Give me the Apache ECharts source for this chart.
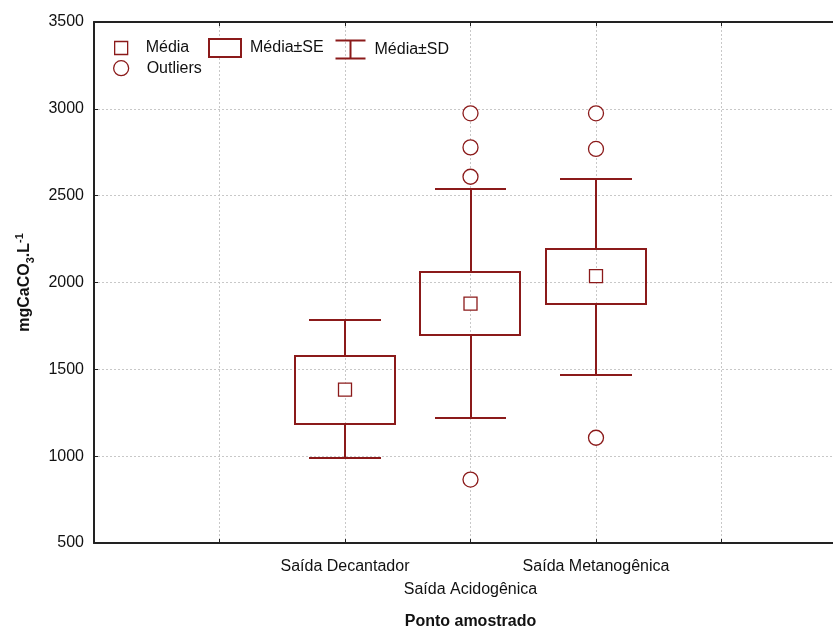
<!DOCTYPE html>
<html>
<head>
<meta charset="utf-8">
<script src="https://cdn.jsdelivr.net/npm/echarts@6/dist/echarts.min.js"></script>
<style>
  html, body { margin: 0; padding: 0; background: #fff; }
  #chart { width: 833px; height: 628px; }
</style>
</head>
<body>
<div id="chart"></div>
<script>
// Sampling points along the x axis (positions 2, 3, 4) and their names
const positions = [2, 3, 4];
const categories = ['Saída Decantador', 'Saída Acidogênica', 'Saída Metanogênica'];

// Mean, mean ± SE and mean ± SD (mgCaCO3/L)
const means  = [1383, 1878, 2037];
const seLow  = [1187, 1700, 1878];
const seHigh = [1577, 2062, 2193];
const sdLow  = [990, 1222, 1466];
const sdHigh = [1784, 2538, 2596];

// Outliers per sampling point
const outliersAcid = [2974, 2778, 2609, 865];
const outliersMeta = [2974, 2769, 1106];

// Y axis range and ticks
const yMin = 500, yMax = 3500, yStep = 500;

const RED = '#8b1a1a';
const TEXT = '#111';
const FONT = 'Liberation Sans, Arial, sans-serif';

const boxHalf = 0.4;   // half box width in axis units
const capHalf = 0.285; // half whisker-cap width

const meanData = positions.map((p, i) => [p, means[i]]);
const seData = positions.map((p, i) => [p, seLow[i], seHigh[i]]);
const sdData = positions.map((p, i) => [p, sdLow[i], sdHigh[i], seLow[i], seHigh[i]]);
const outlierData = []
  .concat(outliersAcid.map(v => [positions[1], v]))
  .concat(outliersMeta.map(v => [positions[2], v]));

const lineStyle = { stroke: RED, lineWidth: 2, fill: null };

function renderSE(params, api) {
  const x = api.value(0);
  const lo = api.coord([x - boxHalf, api.value(1)]);
  const hi = api.coord([x + boxHalf, api.value(2)]);
  return {
    type: 'rect',
    shape: { x: Math.round(lo[0]), y: Math.round(hi[1]), width: Math.round(hi[0] - lo[0]), height: Math.round(lo[1] - hi[1]) },
    style: { stroke: RED, lineWidth: 2, fill: 'rgba(0,0,0,0)' }
  };
}

function renderSD(params, api) {
  const x = api.value(0);
  const c = api.coord([x, api.value(1)]);
  const cx = Math.round(c[0]);
  const yLow = Math.round(c[1]);
  const yHigh = Math.round(api.coord([x, api.value(2)])[1]);
  const yBoxLow = Math.round(api.coord([x, api.value(3)])[1]);
  const yBoxHigh = Math.round(api.coord([x, api.value(4)])[1]);
  const xl = Math.round(api.coord([x - capHalf, 0])[0]);
  const xr = Math.round(api.coord([x + capHalf, 0])[0]);
  const seg = (x1, y1, x2, y2) => ({ type: 'line', shape: { x1, y1, x2, y2 }, style: lineStyle });
  return {
    type: 'group',
    children: [
      seg(cx, yLow, cx, yBoxLow),
      seg(cx, yBoxHigh, cx, yHigh),
      seg(xl, yLow, xr, yLow),
      seg(xl, yHigh, xr, yHigh)
    ]
  };
}

const legendText = { fontSize: 16, color: TEXT, fontFamily: FONT };

const chart = echarts.init(document.getElementById('chart'), null, { renderer: 'canvas' });
chart.setOption({
  animation: false,
  backgroundColor: '#fff',
  // the plot frame runs past the right edge of the canvas
  grid: { left: 94, top: 22, width: 753, height: 521, outerBoundsMode: 'none', containLabel: false },
  legend: [
    {
      left: 114, top: 40, padding: 0, itemWidth: 13, itemHeight: 13, selectedMode: false,
      icon: 'rect',
      data: [{ name: 'Média', itemStyle: { color: '#fff', borderColor: RED, borderWidth: 1.3 } }],
      textStyle: Object.assign({ padding: [0, 0, 0, 13] }, legendText)
    },
    {
      left: 113, top: 60, padding: 0, itemWidth: 15, itemHeight: 15, selectedMode: false,
      icon: 'circle',
      data: [{ name: 'Outliers', itemStyle: { color: '#fff', borderColor: RED, borderWidth: 1.3 } }],
      textStyle: Object.assign({ padding: [0, 0, 0, 13] }, legendText)
    },
    {
      left: 208, top: 38, padding: 0, itemWidth: 32, itemHeight: 18, selectedMode: false,
      icon: 'rect',
      data: [{ name: 'Média±SE', itemStyle: { color: '#fff', borderColor: RED, borderWidth: 2 } }],
      textStyle: Object.assign({ padding: [0, 0, 0, 4] }, legendText)
    },
    {
      left: 333, top: 38, padding: 0, itemWidth: 30, itemHeight: 18, selectedMode: false,
      icon: 'path://M0,0H30M15,0V18M0,18H30',
      data: [{ name: 'Média±SD', itemStyle: { color: 'none', borderColor: RED, borderWidth: 2 } }],
      textStyle: Object.assign({ padding: [0, 0, 0, 4] }, legendText)
    }
  ],
  xAxis: [
    {
      type: 'value', min: 0, max: 6, interval: 1,
      name: 'Ponto amostrado', nameLocation: 'middle', nameGap: 71,
      nameTextStyle: { fontSize: 16, fontWeight: 'bold', color: TEXT, fontFamily: FONT },
      axisLine: { show: true, onZero: false, lineStyle: { color: '#222', width: 2 } },
      axisTick: { show: true, inside: true, length: 4, lineStyle: { color: '#222', width: 1 } },
      splitLine: { show: true, lineStyle: { color: '#c8c8c8', type: [2, 2], width: 1 } },
      axisLabel: {
        margin: 12, fontSize: 16, color: TEXT, fontFamily: FONT, lineHeight: 23,
        formatter: v => {
          const i = positions.indexOf(v);
          if (i < 0) return '';
          return i === 1 ? '\n' + categories[i] : categories[i];
        }
      }
    },
    {
      type: 'value', min: 0, max: 6, interval: 1, position: 'top',
      axisLine: { show: true, onZero: false, lineStyle: { color: '#222', width: 2 } },
      axisTick: { show: true, inside: true, length: 4, lineStyle: { color: '#222', width: 1 } },
      axisLabel: { show: false },
      splitLine: { show: false }
    }
  ],
  yAxis: {
    type: 'value', min: yMin, max: yMax, interval: yStep,
    name: 'mgCaCO{sub|3}.L{sup|-1}', nameLocation: 'middle', nameGap: 58,
    nameTextStyle: {
      fontSize: 16, fontWeight: 'bold', color: TEXT, fontFamily: FONT, lineHeight: 22,
      rich: {
        sub: { fontSize: 11, fontWeight: 'bold', color: TEXT, fontFamily: FONT, lineHeight: 11, verticalAlign: 'bottom' },
        sup: { fontSize: 11, fontWeight: 'bold', color: TEXT, fontFamily: FONT, lineHeight: 11, verticalAlign: 'top' }
      }
    },
    axisLine: { show: true, onZero: false, lineStyle: { color: '#222', width: 2 } },
    axisTick: { show: true, inside: true, length: 4, lineStyle: { color: '#222', width: 1 } },
    splitLine: { show: true, lineStyle: { color: '#c8c8c8', type: [2, 2], width: 1 } },
    axisLabel: { margin: 10, fontSize: 16, color: TEXT, fontFamily: FONT, formatter: v => String(v) }
  },
  series: [
    {
      name: 'Média±SD', type: 'custom', renderItem: renderSD, data: sdData,
      encode: { x: 0, y: [1, 2, 3, 4] }, clip: false, z: 2,
      itemStyle: { color: RED }
    },
    {
      name: 'Média±SE', type: 'custom', renderItem: renderSE, data: seData,
      encode: { x: 0, y: [1, 2] }, clip: false, z: 3,
      itemStyle: { color: RED }
    },
    {
      name: 'Média', type: 'scatter', data: meanData, symbol: 'rect', symbolSize: 13, z: 4,
      itemStyle: { color: '#fff', borderColor: RED, borderWidth: 1.3, opacity: 1 }
    },
    {
      name: 'Outliers', type: 'scatter', data: outlierData, symbol: 'circle', symbolSize: 15, z: 4,
      itemStyle: { color: '#fff', borderColor: RED, borderWidth: 1.3, opacity: 1 }
    }
  ]
});
</script>
</body>
</html>
